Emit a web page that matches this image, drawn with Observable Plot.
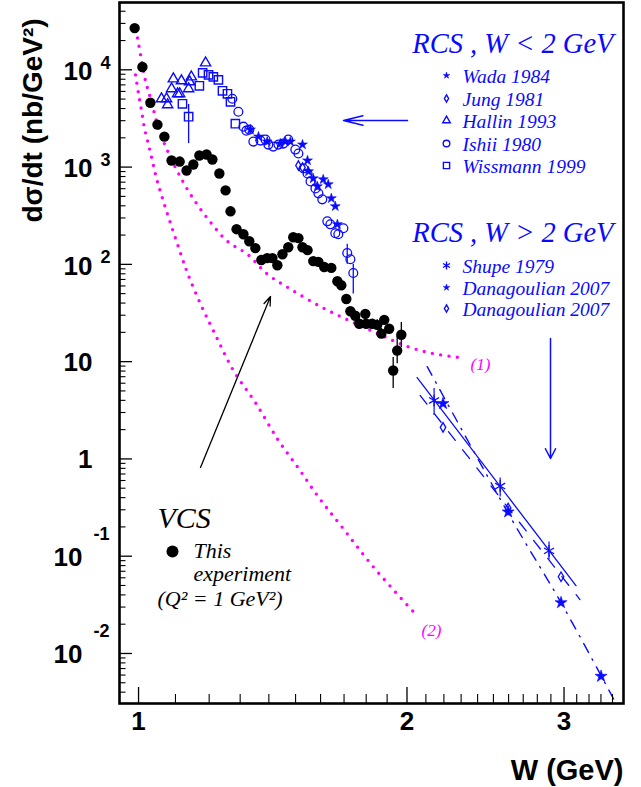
<!DOCTYPE html>
<html><head><meta charset="utf-8">
<script src="https://cdn.jsdelivr.net/npm/d3@7"></script>
<script src="https://cdn.jsdelivr.net/npm/@observablehq/plot@0.6"></script>
<style>body{margin:0;background:#fff}</style>
</head><body><div id="chart"></div>
<script>
// ---------------- data ----------------
// VCS, this experiment (Q^2 = 1 GeV^2)
const vcsW = [0.990,1.010,1.031,1.050,1.069,1.089,1.112,1.132,1.152,1.170,1.192,1.210,1.232,1.252,1.268,1.288,1.311,1.331,1.352,1.373,1.394,1.413,1.431,1.450,1.472,1.491,1.511,1.527,1.547,1.570,1.591,1.615,1.645,1.671,1.688,1.710,1.728,1.750,1.768,1.796,1.800,1.828,1.852,1.872,1.886,1.910,1.930,1.950,1.971];
const vcsS = [26850,10700,4585,2730,2055,1170,1140,923,1064,1315,1346,1197,859,576,351,230,204,173,147,111,116,116,98,127,150,190,186,150,140,108,106,94,92,67,61,44,33,29.6,24.5,31,24.5,24.5,23.9,19.4,26.9,21.8,8.1,13.0,18.9];
const vcsErrW = [1.750,1.768,1.852,1.872,1.930,1.950,1.971];
const vcsErrLo = [26.5,21.5,21.0,17.2,5.3,9.5,13.9];
const vcsErrHi = [33,28,27,22,11.0,18.5,25.2];

// RCS, W < 2 GeV
const wadaW = [1.335,1.363,1.394,1.442,1.461,1.480,1.527,1.547,1.551,1.570,1.587,1.611,1.632,1.645,1.662,1.671];
const wadaS = [2426,2057,1828,1744,1828,1828,1703,1168,902,764,633,747,664,477,395,258];
const jungW = [1.511,1.527];
const jungS = [1038,990];
const hallinW = [1.061,1.075,1.078,1.089,1.094,1.106,1.112,1.117,1.138,1.141,1.146,1.189];
const hallinS = [5035,5037,4375,6377,8068,5666,5666,7699,6377,7518,8458,11770];
const ishiiW = [1.274,1.294,1.311,1.321,1.331,1.345,1.370,1.388,1.398,1.416,1.435,1.453,1.472,1.499,1.511,1.531,1.547,1.559,1.579,1.591,1.607,1.628,1.641,1.662,1.675,1.697,1.714,1.728,1.741];
const ishiiS = [5037,3708,2604,2370,2426,1828,1872,1917,1703,1625,1703,1744,1917,1514,1378,967,860,712,604,537,466,277,258,209,204,235,131,113,81.5];
const ishiiErrW = [1.714,1.741];
const ishiiErrLo = [100,49.7];
const ishiiErrHi = [161,100];
const wissW = [1.120,1.138,1.170,1.180,1.198,1.213,1.229,1.242,1.258,1.268,1.284];
const wissS = [4477,3296,6845,9296,8867,8458,7883,6083,5666,4691,2795];
const wissErrW = [1.138];
const wissErrLo = [1744];
const wissErrHi = [4400];

// RCS, W > 2 GeV
const shupeW = [2.145,2.544,2.886];
const shupeS = [3.99,0.526,0.1135];
const shupeLo = [2.80,0.406,0.0919];
const shupeHi = [5.30,0.635,0.140];
const danaStarW = [2.195,2.597,2.977,3.301];
const danaStarS = [3.71,0.285,0.0333,0.00583];
const danaDiaW = [2.195,2.597,2.977];
const danaDiaS = [2.11,0.313,0.0615];

// fit lines at W > 2 GeV
const solidW = [2.053,3.094];
const solidS = [6.85,0.0498];
const dashedW = [2.069,3.126];
const dashedS = [4.49,0.0358];
const dashDotW = [2.107,2.623,2.977,3.42];
const dashDotS = [8.89,0.236,0.0333,0.00324];

// model curves (1) and (2)
const curve1W = [0.9974,1.0052,1.0182,1.0341,1.0529,1.0749,1.1057,1.1435,1.1945,1.2578,1.3245,1.394,1.4799,1.6029,1.7363,1.8761,2.006,2.140,2.294];
const curve1S = [21210,14210,7690,4690,2483,1549,902,524,298,173,127,79.6,55.8,36.5,25.6,18.5,14.2,12.1,11.0];
const curve2W = [0.9923,1.0,1.0078,1.0156,1.026,1.0368,1.0475,1.0611,1.0832,1.1143,1.1347,1.1733,1.2132,1.2777,1.352,1.4348,1.511,1.591,1.684,1.833,2.032];
const curve2S = [8870,5660,3793,2483,1702,1140,764,512,284,130.6,81.5,39.3,20.8,8.09,3.80,1.55,0.803,0.406,0.2094,0.0779,0.0270];

// axes
const yMajorTicks = [0.01,0.1,1,10,100,1000,10000];
const yExpLabels = [{v:100,exp:"2"},{v:1000,exp:"3"},{v:10000,exp:"4"}];
const yNegLabels = [{v:0.01,exp:"-2"},{v:0.1,exp:"-1"}];
const yPlainLabels = [{v:1,t:"1"},{v:10,t:"10"}];
const xMajorTicks = [1,2,3];
const xTickLabels = ["1","2","3"];

// ---------------- layout ----------------
const W = 641, H = 787;
const mL = 119, mR = 18, mT = 2, mB = 84;
const xDomain = [0.952, 3.498];
const yDomain = [0.00306, 49200];
const sx = d3.scaleLog().domain(xDomain).range([mL, W - mR]);
const sy = d3.scaleLog().domain(yDomain).range([H - mB, mT]);
const P = (X, Y) => ({x: sx.invert(X), y: sy.invert(Y)});

const yMinorTicks = d3.range(-3, 5).flatMap(n => d3.range(2, 10).map(k => k * Math.pow(10, n)))
  .filter(v => v > yDomain[0] && v < yDomain[1]);
const xMinorTicks = d3.range(10, 35).map(i => i / 10).filter(v => !xMajorTicks.includes(v));

const zip = (a, b) => a.map((v, i) => ({W: v, S: b[i]}));
const zipErr = (a, lo, hi) => a.map((v, i) => ({W: v, lo: lo[i], hi: hi[i]}));

const BLUE = "#0a0aff", MAG = "#ff00ff";
const serif = "Liberation Serif, Times New Roman, serif";

const marks = [];
// magenta model curves
marks.push(Plot.line(zip(curve1W, curve1S), {x: "W", y: "S", stroke: MAG, strokeWidth: 3.4, strokeDasharray: "0,8.4", strokeLinecap: "round", curve: "catmull-rom"}));
marks.push(Plot.line(zip(curve2W, curve2S), {x: "W", y: "S", stroke: MAG, strokeWidth: 3.4, strokeDasharray: "0,8.4", strokeLinecap: "round", curve: "catmull-rom"}));
// fit lines
marks.push(Plot.line(zip(solidW, solidS), {x: "W", y: "S", stroke: BLUE, strokeWidth: 1.3}));
marks.push(Plot.line(zip(dashedW, dashedS), {x: "W", y: "S", stroke: BLUE, strokeWidth: 1.3, strokeDasharray: "11,12"}));
marks.push(Plot.line(zip(dashDotW, dashDotS), {x: "W", y: "S", stroke: BLUE, strokeWidth: 1.4, strokeDasharray: "10,7.5,1.5,7.5", curve: "catmull-rom"}));

// error bars
marks.push(Plot.ruleX(zipErr(vcsErrW, vcsErrLo, vcsErrHi), {x: "W", y1: "lo", y2: "hi", stroke: "black", strokeWidth: 1.3}));
marks.push(Plot.ruleX(zipErr(ishiiErrW, ishiiErrLo, ishiiErrHi), {x: "W", y1: "lo", y2: "hi", stroke: BLUE, strokeWidth: 1.3}));
marks.push(Plot.ruleX(zipErr(wissErrW, wissErrLo, wissErrHi), {x: "W", y1: "lo", y2: "hi", stroke: BLUE, strokeWidth: 1.3}));
marks.push(Plot.ruleX(zipErr(shupeW, shupeLo, shupeHi), {x: "W", y1: "lo", y2: "hi", stroke: BLUE, strokeWidth: 1.2}));

// RCS data
marks.push(Plot.dot(zip(hallinW, hallinS), {x: "W", y: "S", symbol: "triangle", r: 3.8, stroke: BLUE, fill: "none", strokeWidth: 1.4}));
marks.push(Plot.dot(zip(wissW, wissS), {x: "W", y: "S", symbol: "square", r: 4.7, stroke: BLUE, fill: "none", strokeWidth: 1.4}));
marks.push(Plot.dot(zip(ishiiW, ishiiS), {x: "W", y: "S", symbol: "circle", r: 4.4, stroke: BLUE, fill: "none", strokeWidth: 1.3}));
marks.push(Plot.dot(zip(jungW, jungS), {x: "W", y: "S", symbol: "diamond", r: 2.8, stroke: BLUE, fill: "none", strokeWidth: 1.3}));
marks.push(Plot.dot(zip(wadaW, wadaS), {x: "W", y: "S", symbol: "star", r: 3.1, fill: BLUE, stroke: BLUE, strokeWidth: 0.6}));
marks.push(Plot.dot(zip(danaDiaW, danaDiaS), {x: "W", y: "S", symbol: "diamond", r: 2.9, stroke: BLUE, fill: "none", strokeWidth: 1.3}));
marks.push(Plot.dot(zip(shupeW, shupeS), {x: "W", y: "S", symbol: "asterisk", r: 5.5, stroke: BLUE, fill: "none", strokeWidth: 1.3}));
marks.push(Plot.dot(zip(danaStarW, danaStarS), {x: "W", y: "S", symbol: "star", r: 3.8, fill: BLUE, stroke: BLUE, strokeWidth: 0.6}));

// VCS data
marks.push(Plot.dot(zip(vcsW, vcsS), {x: "W", y: "S", r: 5.2, fill: "black", stroke: "none"}));

// frame and ticks
marks.push(Plot.ruleY(yMajorTicks, {y: d => d, x1: xDomain[0], x2: sx.invert(mL + 13), stroke: "black", strokeWidth: 1.3}));
marks.push(Plot.ruleY(yMinorTicks, {y: d => d, x1: xDomain[0], x2: sx.invert(mL + 6.5), stroke: "black", strokeWidth: 1.1}));
marks.push(Plot.ruleX(xMajorTicks, {x: d => d, y1: yDomain[0], y2: sy.invert(H - mB - 16), stroke: "black", strokeWidth: 1.3}));
marks.push(Plot.ruleX(xMinorTicks, {x: d => d, y1: yDomain[0], y2: sy.invert(H - mB - 9), stroke: "black", strokeWidth: 1.1}));
marks.push(Plot.frame({stroke: "black", strokeWidth: 2.6}));

// tick labels
const tickFont = {fontSize: 26, fontWeight: "bold", fill: "black"};
marks.push(Plot.text(yExpLabels, {y: "v", text: () => "10", frameAnchor: "left", dx: -27, dy: 2, textAnchor: "end", ...tickFont}));
marks.push(Plot.text(yExpLabels, {y: "v", text: "exp", frameAnchor: "left", dx: -19, dy: -7, textAnchor: "start", fontSize: 18, fontWeight: "bold"}));
marks.push(Plot.text(yNegLabels, {y: "v", text: () => "10", frameAnchor: "left", dx: -37, dy: 1, textAnchor: "end", ...tickFont}));
marks.push(Plot.text(yNegLabels, {y: "v", text: "exp", frameAnchor: "left", dx: -26, dy: -22, textAnchor: "start", fontSize: 18, fontWeight: "bold"}));
marks.push(Plot.text(yPlainLabels, {y: "v", text: "t", frameAnchor: "left", dx: -27, dy: 1, textAnchor: "end", ...tickFont}));
marks.push(Plot.text(xMajorTicks, {x: d => d, text: (d, i) => xTickLabels[i], frameAnchor: "bottom", dy: 26, ...tickFont}));

// axis titles
marks.push(Plot.text([P(623, 770)], {x: "x", y: "y", textAnchor: "end", text: () => "W (GeV)", fontSize: 29, fontWeight: "bold"}));
marks.push(Plot.text([P(33, 120)], {x: "x", y: "y", rotate: -90, text: () => "dσ/dt (nb/GeV²)", fontSize: 28, fontWeight: "bold"}));

// legend / annotations (pixel layout, converted to data coords)
const txt = (s, X, Y, o) => Plot.text([P(X, Y)], {x: "x", y: "y", text: () => s, fontFamily: serif, fontStyle: "italic", ...o});
marks.push(txt("RCS , W < 2 GeV", 613, 43, {textAnchor: "end", fontSize: 28.5, fill: BLUE}));
marks.push(txt("RCS , W > 2 GeV", 613, 232, {textAnchor: "end", fontSize: 28.5, fill: BLUE}));
const legendItems = [
  {label: "Wada 1984", symbol: "star", r: 2.1, filled: true, Y: 75},
  {label: "Jung 1981", symbol: "diamond", r: 2.2, Y: 98},
  {label: "Hallin 1993", symbol: "triangle", r: 2.8, Y: 120},
  {label: "Ishii 1980", symbol: "circle", r: 3.3, Y: 143},
  {label: "Wissmann 1999", symbol: "square", r: 3.5, Y: 165},
  {label: "Shupe 1979", symbol: "asterisk", r: 3.8, Y: 265},
  {label: "Danagoulian 2007", symbol: "star", r: 2.1, filled: true, Y: 287},
  {label: "Danagoulian 2007", symbol: "diamond", r: 2.2, Y: 308}
];
for (const it of legendItems) {
  marks.push(Plot.dot([P(446, it.Y)], {x: "x", y: "y", symbol: it.symbol, r: it.r,
    fill: it.filled ? BLUE : "none", stroke: BLUE, strokeWidth: it.filled ? 0.5 : 1.4}));
  marks.push(txt(it.label, 462, it.Y + 1, {textAnchor: "start", fontSize: 19.5, fill: BLUE}));
}
marks.push(txt("(1)", 480, 364, {fontSize: 17, fill: MAG}));
marks.push(txt("(2)", 431, 630, {fontSize: 17, fill: MAG}));
marks.push(txt("VCS", 157, 518, {textAnchor: "start", fontSize: 30, fill: "black"}));
marks.push(Plot.dot([P(172, 551)], {x: "x", y: "y", r: 6, fill: "black"}));
marks.push(txt("This", 193, 550, {textAnchor: "start", fontSize: 22, fill: "black"}));
marks.push(txt("experiment", 193, 573, {textAnchor: "start", fontSize: 22, fill: "black"}));
marks.push(txt("(Q² = 1 GeV²)", 157, 598, {textAnchor: "start", fontSize: 22, fill: "black"}));

// arrows
const arr = (X1, Y1, X2, Y2) => { const a = P(X1, Y1), b = P(X2, Y2); return {x1: a.x, y1: a.y, x2: b.x, y2: b.y}; };
marks.push(Plot.arrow([arr(407, 120, 343, 120)], {x1: "x1", y1: "y1", x2: "x2", y2: "y2", stroke: BLUE, strokeWidth: 1.5, headLength: 20, headAngle: 28}));
marks.push(Plot.arrow([arr(550, 338, 550, 458)], {x1: "x1", y1: "y1", x2: "x2", y2: "y2", stroke: BLUE, strokeWidth: 1.5, headLength: 11, headAngle: 55}));
marks.push(Plot.arrow([arr(200, 467, 270, 296)], {x1: "x1", y1: "y1", x2: "x2", y2: "y2", stroke: "black", strokeWidth: 1.3, headLength: 11, headAngle: 40}));

const chart = Plot.plot({
  width: W, height: H,
  marginLeft: mL, marginRight: mR, marginTop: mT, marginBottom: mB,
  x: {type: "log", domain: xDomain, axis: null},
  y: {type: "log", domain: yDomain, axis: null},
  style: {fontFamily: "Liberation Sans, Arial, sans-serif", background: "white", overflow: "visible"},
  marks
});
document.getElementById("chart").appendChild(chart);
</script>
</body></html>
